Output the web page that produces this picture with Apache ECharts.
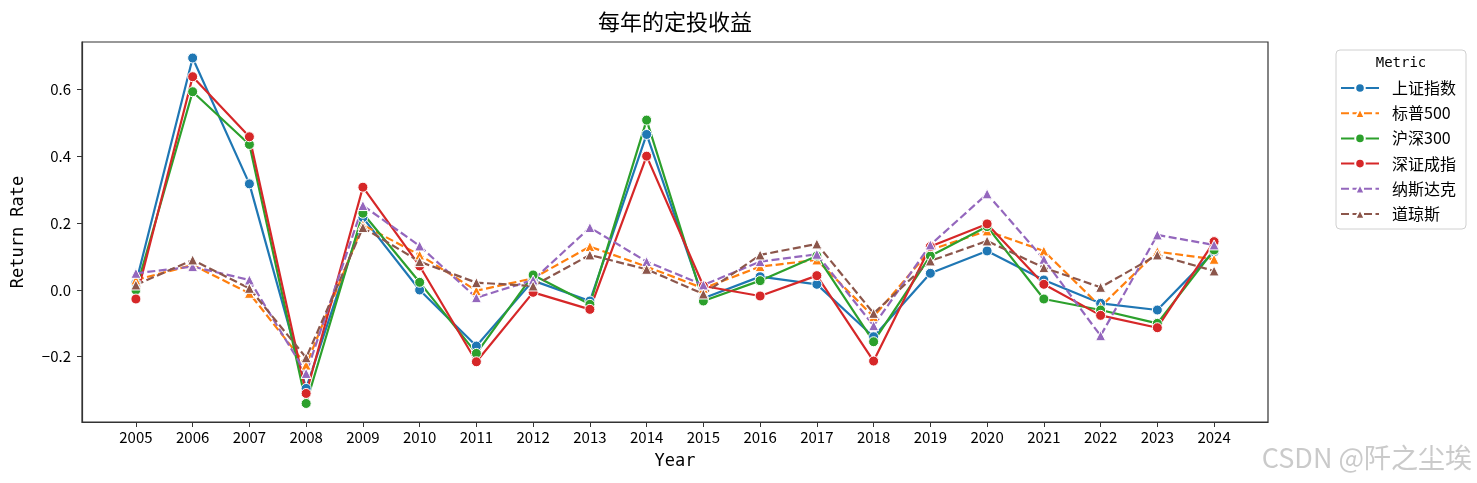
<!DOCTYPE html>
<html>
<head>
<meta charset="utf-8">
<script src="https://cdn.jsdelivr.net/npm/echarts@6/dist/echarts.min.js"></script>
<style>html,body{margin:0;padding:0;background:#fff}#c{width:1477px;height:483px}</style>
</head>
<body>
<div id="c"></div>
<script>
const years = [2005,2006,2007,2008,2009,2010,2011,2012,2013,2014,2015,2016,2017,2018,2019,2020,2021,2022,2023,2024];
const shangzheng = [0.02,0.695,0.318,-0.295,0.217,0.0,-0.168,0.028,-0.033,0.466,-0.025,0.04,0.017,-0.14,0.05,0.117,0.03,-0.04,-0.06,0.115];
const sp500 = [0.03,0.075,-0.01,-0.225,0.195,0.105,-0.002,0.035,0.13,0.07,0.005,0.07,0.09,-0.08,0.12,0.177,0.117,-0.05,0.115,0.092];
const hushen300 = [0.0,0.594,0.436,-0.34,0.23,0.023,-0.19,0.045,-0.043,0.509,-0.033,0.028,0.102,-0.155,0.102,0.19,-0.027,-0.06,-0.1,0.12];
const shenzheng = [-0.027,0.639,0.459,-0.31,0.308,0.072,-0.215,-0.007,-0.058,0.401,0.012,-0.018,0.043,-0.213,0.13,0.198,0.017,-0.076,-0.113,0.145];
const nasdaq = [0.05,0.07,0.03,-0.25,0.253,0.132,-0.023,0.03,0.187,0.085,0.015,0.085,0.107,-0.107,0.135,0.288,0.092,-0.137,0.165,0.135];
const dow = [0.015,0.09,0.005,-0.203,0.187,0.085,0.022,0.012,0.105,0.062,-0.012,0.105,0.138,-0.07,0.087,0.147,0.067,0.008,0.105,0.057];
const yTicks = [-0.2,0.0,0.2,0.4,0.6];

const names = ['上证指数','标普500','沪深300','深证成指','纳斯达克','道琼斯'];
const dataSets = [shangzheng, sp500, hushen300, shenzheng, nasdaq, dow];
const colors = ['#1f77b4','#ff7f0e','#2ca02c','#d62728','#9467bd','#8c564b'];
const dashed = [false,true,false,false,true,true];
const MONO = "'DejaVu Sans Mono','Noto Sans CJK SC',sans-serif";
const CJK = "'Noto Sans CJK SC',sans-serif";

const series = names.map((n,i)=>({
  name:n, type:'line',
  data: years.map((y,j)=>[y, dataSets[i][j]]),
  symbol: dashed[i] ? 'triangle' : 'circle',
  symbolSize: 10,
  showAllSymbol:true,
  lineStyle:{color:colors[i], width:2.2, type: dashed[i] ? [8,3.5] : 'solid'},
  itemStyle:{color:colors[i], borderColor:'#fff', borderWidth:1, opacity:1},
  emphasis:{disabled:true},
  animation:false
}));

const chart = echarts.init(document.getElementById('c'), null, {renderer:'canvas'});
chart.setOption({
  animation:false,
  backgroundColor:'#fff',
  grid:{left:82, right:209, top:42, bottom:61, show:true, borderColor:'#333', borderWidth:1.2, backgroundColor:'transparent', containLabel:false},
  xAxis:{
    type:'value', min:2004.05, max:2024.95,
    name:'Year', nameLocation:'middle', nameGap:31,
    nameTextStyle:{fontFamily:MONO, fontSize:17, color:'#000'},
    axisLine:{show:true, onZero:false, lineStyle:{color:'#333', width:1.2}},
    axisTick:{show:true, length:5, lineStyle:{color:'#333'}, customValues:years},
    axisLabel:{show:true, customValues:years, fontFamily:CJK, fontSize:15, color:'#000', margin:8, formatter:v=>String(Math.round(v))},
    splitLine:{show:false}
  },
  yAxis:{
    type:'value', min:-0.3955, max:0.743,
    name:'Return Rate', nameLocation:'middle', nameGap:55, nameRotate:90,
    nameTextStyle:{fontFamily:MONO, fontSize:17, color:'#000'},
    axisLine:{show:true, onZero:false, lineStyle:{color:'#333', width:1.2}},
    axisTick:{show:true, length:5, lineStyle:{color:'#333'}, customValues:yTicks},
    axisLabel:{show:true, customValues:yTicks, fontFamily:CJK, fontSize:15, color:'#000', margin:11,
      formatter:v=>(v<0?'\u2212':'')+Math.abs(v).toFixed(1)},
    splitLine:{show:false}
  },
  legend:{
    orient:'vertical', left:1336, top:50,
    padding:[30,10,7,4],
    itemWidth:38, itemHeight:12, itemGap:9.2,
    borderColor:'#d0d0d0', borderWidth:1, borderRadius:4,
    textStyle:{fontFamily:CJK, fontSize:16, color:'#000', padding:[0,0,0,8]},
    data:names
  },
  graphic:[
    {type:'text', x:675, y:22, style:{text:'每年的定投收益', font:"22px 'Noto Sans CJK SC'", fill:'#000', textAlign:'center', textVerticalAlign:'middle'}},
    {type:'text', x:1401, y:63, style:{text:'Metric', font:"14px 'DejaVu Sans Mono'", fill:'#000', textAlign:'center', textVerticalAlign:'middle'}},
    {type:'text', x:1472, y:458, style:{text:'CSDN @阡之尘埃', font:"27px 'Noto Sans CJK SC'", fill:'rgba(150,150,150,0.5)', textAlign:'right', textVerticalAlign:'middle'}}
  ],
  series:series
});
</script>
</body>
</html>
